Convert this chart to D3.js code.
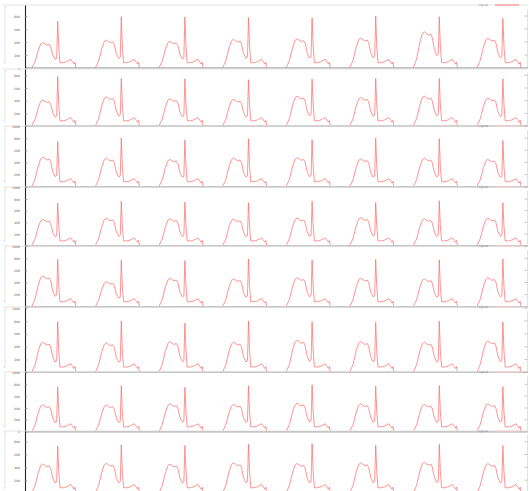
<!DOCTYPE html>
<html>
<head>
<meta charset="utf-8">
<script src="https://cdn.jsdelivr.net/npm/d3@7"></script>
<style>
  body { margin: 0; background: #fff; }
  svg { display: block; }
</style>
</head>
<body>
<div id="my_dataviz"></div>
<script>
// shape of one cycle: position inside the cycle (0..1) and value
const cycleX       = [0.105, 0.157, 0.209, 0.247, 0.278, 0.314, 0.341, 0.382, 0.404, 0.436, 0.472, 0.498, 0.514, 0.530, 0.550, 0.602, 0.656, 0.719, 0.750, 0.770, 0.786, 0.800];
const cycleProfile = [0,     97,    277,   370,   390,   370,   354,   364,   328,   200,   134,   149,   712,   350,   82,    82,    97,    134,   90,    60,    90,    0];
const spikeIndex = 12;

// spike height of each cycle, one array per panel
const spikes1 = [723, 790, 785, 775, 770, 800, 790, 765];
const spikes2 = [777, 752, 745, 730, 745, 750, 750, 745];
const spikes3 = [744, 800, 770, 790, 775, 800, 790, 760];
const spikes4 = [730, 760, 745, 735, 760, 740, 770, 735];
const spikes5 = [783, 772, 760, 790, 770, 780, 775, 790];
const spikes6 = [790, 800, 770, 800, 790, 780, 800, 785];
const spikes7 = [760, 780, 750, 775, 790, 770, 780, 760];
const spikes8 = [734, 750, 740, 760, 770, 745, 760, 740];

// height of the broad hump of each cycle
const humps1 = [390, 430, 410, 440, 450, 460, 558, 457];
const humps2 = [410, 462, 430, 420, 470, 450, 470, 440];
const humps3 = [486, 469, 450, 470, 480, 460, 470, 450];
const humps4 = [450, 470, 460, 455, 470, 480, 460, 470];
const humps5 = [507, 413, 470, 460, 480, 470, 460, 480];
const humps6 = [470, 460, 480, 470, 500, 480, 470, 490];
const humps7 = [453, 450, 470, 460, 480, 470, 460, 470];
const humps8 = [453, 464, 450, 470, 460, 470, 480, 460];

const spikes = [spikes1, spikes2, spikes3, spikes4, spikes5, spikes6, spikes7, spikes8];
const humps  = [humps1, humps2, humps3, humps4, humps5, humps6, humps7, humps8];

const yMaxes = [970, 900, 1000, 1005, 1003, 1020, 1008, 967];
const yTicks = [0, 200, 400, 600, 800, 1000];
const legendLabel = "signal";

// panel frames (px)
const panelTop    = [5, 69, 126, 187, 246, 307, 372, 431];
const panelBottom = [68, 126, 186.7, 245.7, 306.7, 372.3, 431.7, 493];

const width = 529, height = 491;
const svg = d3.select("#my_dataviz")
  .append("svg")
    .attr("width", width)
    .attr("height", height);

svg.append("defs").append("clipPath")
    .attr("id", "plotclip")
  .append("rect")
    .attr("x", 25).attr("y", 0)
    .attr("width", 503).attr("height", height);

const x = d3.scaleLinear()
  .domain([0, 8])
  .range([25, 533.8]);

const line = d3.line()
  .x(d => x(d.t))
  .y(d => d.y);

spikes.forEach(function(rowSpikes, r) {
  const top = panelTop[r], bottom = panelBottom[r];
  const y = d3.scaleLinear()
    .domain([0, yMaxes[r]])
    .range([bottom, top]);

  const g = svg.append("g");

  // top border
  g.append("line")
    .attr("x1", 3).attr("x2", 528)
    .attr("y1", top).attr("y2", top)
    .attr("stroke", "#e4e4e4")
    .attr("stroke-width", 1);

  // light bracket on the far left
  g.append("path")
    .attr("d", `M7,${top + 2} H5 V${bottom - 5} H3`)
    .attr("fill", "none")
    .attr("stroke", "#d6d6d6")
    .attr("stroke-width", 0.7);

  // right ticks
  const ticksShown = yTicks.filter(t => t <= yMaxes[r]);
  g.selectAll("rtick")
    .data(ticksShown.slice(1))
    .join("line")
      .attr("x1", 524.5).attr("x2", 527.5)
      .attr("y1", d => y(d)).attr("y2", d => y(d))
      .attr("stroke", "#a0a0a0")
      .attr("stroke-width", 0.6);
  g.append("line")
    .attr("x1", 527.5).attr("x2", 527.5)
    .attr("y1", top + 4).attr("y2", bottom)
    .attr("stroke", "#cccccc")
    .attr("stroke-width", 0.6);

  // the cycles
  const cycles = rowSpikes.map(function(sp, c) {
    const scale = humps[r][c] / cycleProfile[4];
    return cycleX.map(function(cx, i) {
      let v = cycleProfile[i];
      if (i === spikeIndex) v = sp;
      else if (i >= 1 && i <= 11) v = v * scale;
      return {t: c + cx, y: y(v)};
    });
  });

  g.append("g")
    .attr("clip-path", "url(#plotclip)")
    .selectAll("path")
    .data(cycles)
    .join("path")
      .attr("d", d => line(d))
      .attr("fill", "none")
      .attr("stroke", "#ff6a6a")
      .attr("stroke-opacity", 0.8)
      .attr("stroke-width", 0.9)
      .attr("stroke-linejoin", "round");

  // bottom axis
  g.append("line")
    .attr("x1", 25).attr("x2", 528)
    .attr("y1", bottom).attr("y2", bottom)
    .attr("stroke", "#ababab")
    .attr("stroke-width", 1.6);

  // left axis, ticks pointing inward; the zero label is left out where
  // the next panel's top label sits on it, and where it falls off the page
  const nextHasTop = r < spikes.length - 1 && yMaxes[r + 1] >= 1000;
  const labelled = ticksShown.filter(t => !(t === 0 && (nextHasTop || bottom > height - 3)));
  const axis = g.append("g")
    .attr("transform", `translate(25,0)`)
    .call(d3.axisLeft(y)
      .tickValues(ticksShown)
      .tickSizeInner(-2.5)
      .tickSizeOuter(0)
      .tickPadding(5)
      .tickFormat(d => labelled.includes(d) ? d3.format("d")(d) : ""));
  axis.select(".domain")
    .attr("stroke", "#222")
    .attr("stroke-width", 1.1);
  axis.selectAll(".tick line")
    .attr("stroke", "#888")
    .attr("stroke-width", 0.6);
  axis.selectAll(".tick text")
    .style("font-family", "DejaVu Sans, sans-serif")
    .style("font-size", "3.2px")
    .attr("fill", "#666");

  // legend on the top border
  if (r !== 1) {
    g.append("text")
      .attr("x", 488).attr("y", top + 1)
      .style("text-anchor", "end")
      .style("font-family", "DejaVu Sans, sans-serif")
      .style("font-size", "3.2px")
      .attr("fill", "#999")
      .text(legendLabel);
    g.append("line")
      .attr("x1", 495).attr("x2", 519)
      .attr("y1", top).attr("y2", top)
      .attr("stroke", r === 0 ? "#ff7a7a" : "#ffcccc")
      .attr("stroke-width", 1);
  }
});
</script>
</body>
</html>
